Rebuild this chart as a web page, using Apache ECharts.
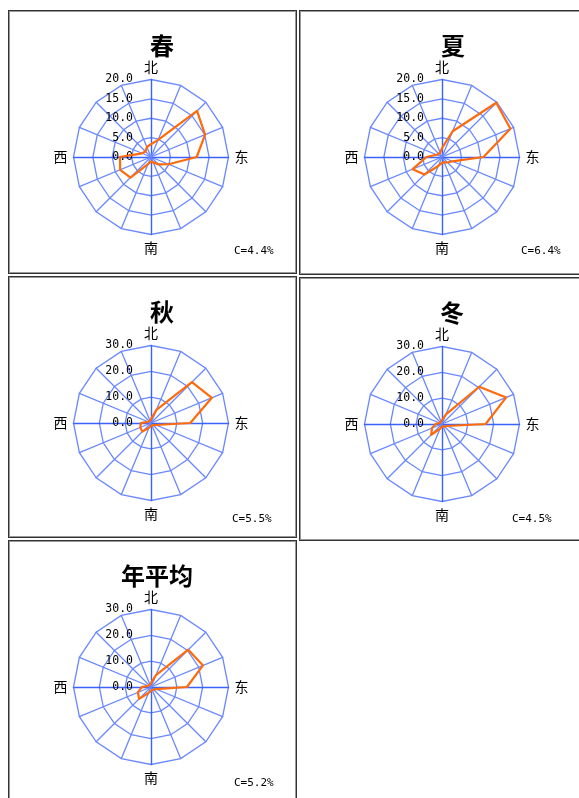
<!DOCTYPE html>
<html>
<head>
    <meta charset="utf-8" />
    <title>风向玫瑰图</title>
    <script src="https://cdn.jsdelivr.net/npm/echarts@6.0.0/dist/echarts.min.js"></script>
    <style>
        body { margin: 0; width: 579px; height: 798px; overflow: hidden; background: #fff; }
        .cell { position: absolute; box-sizing: border-box; border: 1px solid #333; box-shadow: inset 0 0 0 1px #999; background: #fff; }
        .cell div { position: absolute; left: 1px; top: 1px; right: 1px; bottom: 1px; }
    </style>
</head>
<body>
    <div class="cell" style="left:8px;top:10px;width:289px;height:264px;"><div id="spring"></div></div>
    <div class="cell" style="left:299px;top:10px;width:290px;height:265px;"><div id="summer"></div></div>
    <div class="cell" style="left:8px;top:276px;width:289px;height:262px;"><div id="autumn"></div></div>
    <div class="cell" style="left:299px;top:277px;width:290px;height:264px;"><div id="winter"></div></div>
    <div class="cell" style="left:8px;top:540px;width:289px;height:270px;"><div id="year"></div></div>

<script type="text/javascript">
    // 16个方位，从北开始顺时针：北、北东北、东北、东东北、东 ……
    var directions = ['北', '', '', '', '东', '', '', '', '南', '', '', '', '西', '', '', ''];

    // 各季节风向频率(%)，顺时针
    var springData = [3.3, 4.8, 16.8, 15.1, 11.8, 4.9, 2.7, 1.5, 1.2, 2.0, 7.5, 8.6, 8.0, 2.5, 2.0, 2.8];
    var summerData = [2.3, 7.2, 19.8, 19.1, 10.7, 2.9, 2.0, 1.5, 1.5, 2.5, 6.4, 8.2, 4.0, 1.5, 1.2, 1.2];
    var autumnData = [1.5, 5.5, 22.4, 25.5, 15.2, 2.0, 1.2, 1.0, 1.2, 2.0, 4.7, 4.5, 3.9, 1.2, 1.0, 1.0];
    var winterData = [1.5, 4.0, 20.4, 26.9, 16.9, 2.0, 1.5, 1.0, 1.0, 2.0, 5.9, 4.2, 2.5, 1.0, 1.0, 1.0];
    var yearData = [1.5, 5.0, 20.4, 21.8, 13.9, 2.2, 1.5, 1.2, 1.5, 2.5, 6.5, 5.5, 3.5, 1.2, 1.0, 1.0];

    var titles = ['春', '夏', '秋', '冬', '年平均'];
    var calms = ['C=4.4%', 'C=6.4%', 'C=5.5%', 'C=4.5%', 'C=5.2%'];
    var axisMax = [20, 20, 30, 30, 30];
    var splitNum = [4, 4, 3, 3, 3];

    // radar 的指示器是逆时针排的，这里换成逆时针顺序
    var order = [0];
    for (var i = 15; i >= 1; i--) order.push(i);

    function makeOption(idx, data, titleX, calmX, calmY) {
        var indicator = order.map(function (k) {
            var ind = {
                name: directions[k],
                min: 0,
                max: axisMax[idx]
            };
            if (directions[k]) {
                ind.axisLine = { show: true, lineStyle: { color: '#3a62ff', width: 1.4 } };
            }
            if (k === 0) {
                ind.axisLabel = {
                    show: true,
                    margin: 18,
                    color: '#000',
                    fontSize: 11.5,
                    fontFamily: 'DejaVu Sans Mono',
                    formatter: function (v) { return v.toFixed(1); }
                };
            }
            return ind;
        });
        return {
            animation: false,
            title: [
                {
                    text: titles[idx],
                    left: titleX,
                    top: 16,
                    textAlign: 'center',
                    textStyle: { fontSize: 24, fontWeight: 'bold', color: '#000', fontFamily: 'Noto Sans CJK SC' }
                },
                {
                    text: calms[idx],
                    left: calmX,
                    top: calmY,
                    padding: 0,
                    textStyle: { fontSize: 11, fontWeight: 'normal', color: '#000', fontFamily: 'DejaVu Sans Mono' }
                }
            ],
            radar: {
                center: [140, 144],
                radius: 77.5,
                startAngle: 90,
                shape: 'polygon',
                splitNumber: splitNum[idx],
                indicator: indicator,
                nameGap: 6,
                axisName: { color: '#000', fontSize: 14, fontFamily: 'Noto Sans CJK SC' },
                axisLine: { show: true, lineStyle: { color: '#6a88ff', width: 1.3 } },
                splitLine: { lineStyle: { color: '#6a88ff', width: 1.3 } },
                splitArea: { show: false },
                axisLabel: { show: false },
                axisTick: { show: false }
            },
            series: [
                {
                    type: 'radar',
                    symbol: 'none',
                    lineStyle: { color: '#ff6a0a', width: 2.2 },
                    data: [{ value: order.map(function (k) { return data[k]; }) }]
                }
            ]
        };
    }

    var charts = [
        ['spring', springData, 146, 223, 233],
        ['summer', summerData, 146, 219, 233],
        ['autumn', autumnData, 146, 221, 235],
        ['winter', winterData, 145, 210, 234],
        ['year', yearData, 141, 223, 235]
    ];
    charts.forEach(function (c, idx) {
        var chart = echarts.init(document.getElementById(c[0]));
        chart.setOption(makeOption(idx, c[1], c[2], c[3], c[4]));
    });
</script>
</body>
</html>
